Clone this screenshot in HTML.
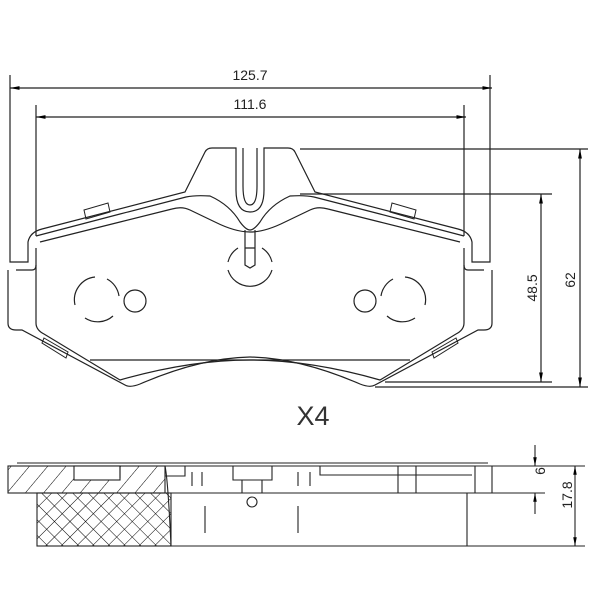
<!DOCTYPE html>
<html><head><style>body{margin:0;background:#fff}svg{display:block}</style></head><body>
<svg width="600" height="600" viewBox="0 0 600 600" xmlns="http://www.w3.org/2000/svg" font-family="Liberation Sans, sans-serif">
<defs>
<marker id="a" viewBox="0 0 10 10" refX="10" refY="5" markerWidth="8" markerHeight="8" orient="auto-start-reverse"><path d="M0,3 L10,5 L0,7z" fill="#000"/></marker>
<pattern id="hatch" width="14" height="14" patternUnits="userSpaceOnUse" patternTransform="rotate(40)"><line x1="0" y1="0" x2="0" y2="14" stroke="#000" stroke-width="1"/></pattern>
<pattern id="cross" width="11" height="11" patternUnits="userSpaceOnUse" patternTransform="rotate(45)"><path d="M0,0V11M0,0H11" stroke="#000" stroke-width="1" fill="none"/></pattern>
<g id="half" fill="none" stroke="#222" stroke-width="1.2">
<path d="M10,75 V262 H28 V242 Q30,232 42,229 L185,192 L205,152 Q207,148 212,148 H236 V190 Q236,212 250,212"/>
<path d="M243,148 V186 Q243,205 250,205"/>
<path d="M36,236 L120,214 L186,197 Q195,195 210,196 Q230,205 240,222 Q246,230 250,230"/>
<path d="M40,242 L120,222 L172,209 Q182,206 190,210 L215,222 Q235,232 250,232"/>
<path d="M36,105 V236"/>
<path d="M16,270 H32 Q36,270 36,265 V248"/>
<path d="M8,270 V323 Q8,330 16,330 H22 L125,385 Q130,388 140,384 Q200,358 250,357"/>
<path d="M36,265 V323 Q36,330 44,334 L120,380 Q190,360 250,360"/>
<path d="M90,360 H250"/>
<path d="M84,210 L108,203 L110,212 L86,219z M44,338 L68,352 L66,358 L42,343z" stroke-width="1"/>
<path d="M95,277 A23,23 0 0 0 75,305 M85,318 A23,23 0 0 0 113,316 M107,279 A23,23 0 0 1 119,296" stroke-width="1.2"/>
<circle cx="135" cy="301" r="11"/>
</g>
</defs>
<use href="#half"/>
<use href="#half" transform="translate(500,0) scale(-1,1)"/>
<g fill="none" stroke="#222" stroke-width="1.2">
<path d="M228,270 A23,23 0 0 0 272,270 M228,262 A23,23 0 0 1 238,248 M262,248 A23,23 0 0 1 272,262"/>
<path d="M245,230 V265 L250,268 L255,265 V230 M245,248 H255"/>
<line x1="10" y1="88" x2="492" y2="88" marker-start="url(#a)" marker-end="url(#a)"/>
<line x1="36" y1="117" x2="466" y2="117" marker-start="url(#a)" marker-end="url(#a)"/>
<line x1="300" y1="149" x2="588" y2="149"/>
<line x1="300" y1="194" x2="552" y2="194"/>
<line x1="385" y1="382" x2="552" y2="382"/>
<line x1="375" y1="387" x2="588" y2="387"/>
<line x1="541" y1="194" x2="541" y2="382" marker-start="url(#a)" marker-end="url(#a)"/>
<line x1="580" y1="149" x2="580" y2="387" marker-start="url(#a)" marker-end="url(#a)"/>
</g>
<g font-size="14" fill="#222">
<text x="250" y="80" text-anchor="middle">125.7</text>
<text x="250" y="109" text-anchor="middle">111.6</text>
<text transform="translate(537,288) rotate(-90)" text-anchor="middle">48.5</text>
<text transform="translate(575,280) rotate(-90)" text-anchor="middle">62</text>
<text transform="translate(545,471) rotate(-90)" text-anchor="middle">6</text>
<text transform="translate(572,495) rotate(-90)" text-anchor="middle">17.8</text>
</g>
<text x="313" y="425" font-size="27" text-anchor="middle" fill="#333" font-weight="300">X4</text>
<g fill="none" stroke="#222" stroke-width="1.1">
<rect x="8" y="466" width="157" height="27" fill="url(#hatch)"/>
<rect x="74" y="466" width="46" height="14" fill="#fff"/>
<rect x="37" y="493" width="134" height="53" fill="url(#cross)"/>
<path d="M165,466 H492 V493 H165 M17,463 H488"/>
<path d="M120,478 V466 M165,466 Q168,480 171,546 M37,546 H467 V493"/>
<path d="M165,476 H185 V466 M192,472 V486 M202,472 V486 M233,466 V480 H272 V466 M242,480 V493 M262,480 V493"/>
<circle cx="252" cy="502" r="5"/>
<path d="M205,506 V533 M298,506 V533 M298,472 V486 M310,472 V486 M320,466 V475 H472 M398,466 V493 H416 V466 M475,466 V493"/>
<path d="M492,466 H585 M467,493 H545 M467,546 H585"/>
<line x1="535" y1="445" x2="535" y2="466" marker-end="url(#a)"/>
<line x1="535" y1="514" x2="535" y2="493" marker-end="url(#a)"/>
<line x1="575" y1="466" x2="575" y2="546" marker-start="url(#a)" marker-end="url(#a)"/>
</g>
</svg>
</body></html>
